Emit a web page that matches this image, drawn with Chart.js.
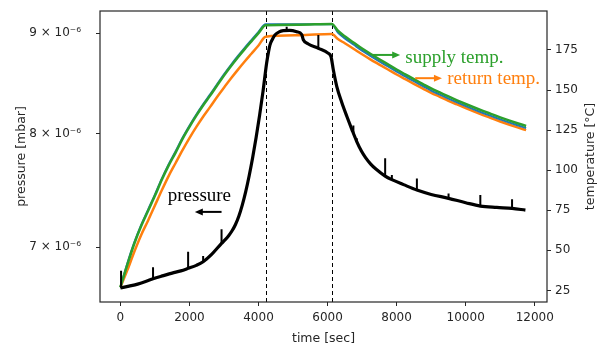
<!DOCTYPE html>
<html>
<head>
<meta charset="utf-8">
<script src="https://cdn.jsdelivr.net/npm/chart.js@4.4.0/dist/chart.umd.min.js"></script>
<style>
  html, body { margin: 0; padding: 0; background: #fff; }
</style>
</head>
<body>
<canvas id="chart" width="605" height="347"></canvas>
<script>
// ticks
const xTicks = [0, 2000, 4000, 6000, 8000, 10000, 12000];
const pressureTicks = [7e-6, 8e-6, 9e-6];
const pressureTickLabels = ['7 × 10⁻⁶', '8 × 10⁻⁶', '9 × 10⁻⁶'];
const tempTicks = [25, 50, 75, 100, 125, 150, 175];

// start / end of the hold phase (dashed lines)
const markerTimes = [4206, 6121];

// temperatures [°C]
const tempTime = [0, 200, 400, 600, 800, 1000, 1200, 1400, 1600, 1800, 2000, 2200, 2400, 2600, 2800, 3000,
  3200, 3400, 3600, 3800, 4000, 4206, 5160, 6121, 6300, 6500, 6750, 7000, 7250, 7500, 7750, 8000, 8250,
  8500, 8750, 9000, 9250, 9500, 9750, 10000, 10250, 10500, 10750, 11000, 11250, 11500, 11750];
const supplyTemp = [27, 41, 54, 65, 74.5, 84, 94, 103, 111, 119.5, 127, 134, 140.5, 146.5, 152.8, 159,
  164.8, 170.3, 175.5, 180.5, 185.5, 190.4, 190.8, 191.2, 187, 183.5, 179.7, 175.9, 172.5, 169.2, 166, 162.8, 159.8,
  156.8, 153.9, 151, 148.5, 146, 143.6, 141.3, 139.1, 137, 135, 133, 131.1, 129.3, 127.6];
const meanTemp = [27, 41.8, 54.8, 65.8, 75.3, 84.8, 94.8, 103.8, 111.8, 120.3, 127.8, 134.8, 141.3, 147.3, 153.6, 159.8,
  165.6, 171.1, 176.3, 181.3, 186.3, 191, 191, 191, 185.8, 182.2, 178.4, 174.6, 171.2, 167.9, 164.7, 161.5, 158.5,
  155.5, 152.6, 149.7, 147.2, 144.7, 142.3, 140, 137.8, 135.7, 133.7, 131.7, 129.8, 128, 126.3];
const returnTemp = [27, 37.5, 49, 59.5, 68.5, 78, 87.5, 96.5, 104.5, 112.5, 120, 127, 133.5, 139.5, 145.7, 151.5,
  157.2, 162.6, 167.8, 172.8, 177.8, 183.3, 184.2, 185, 181.8, 179.2, 175.8, 172.3, 169, 165.9, 162.8, 159.7, 156.8,
  153.9, 151.1, 148.3, 145.8, 143.3, 141, 138.7, 136.5, 134.4, 132.4, 130.4, 128.5, 126.7, 125];

// pressure [mbar]
const pressureTime = [0, 250, 500, 750, 946, 1250, 1500, 1750, 1962, 2200, 2397, 2650, 2930, 3030, 3130, 3230,
  3330, 3430, 3530, 3630, 3730, 3830, 3930, 4030, 4130, 4236, 4290, 4331, 4400, 4476, 4600, 4717, 4900, 5106,
  5251, 5297, 5443, 5733, 6023, 6101, 6168, 6266, 6412, 6560, 6700, 6846, 6980, 7100, 7250, 7400, 7668, 7862,
  8200, 8587, 9000, 9504, 10000, 10424, 10900, 11343, 11730];
const pressureMbar = [6.672e-6, 6.687e-6, 6.703e-6, 6.725e-6, 6.745e-6, 6.770e-6, 6.790e-6, 6.808e-6, 6.828e-6,
  6.852e-6, 6.881e-6, 6.943e-6, 7.031e-6, 7.060e-6, 7.093e-6, 7.134e-6, 7.187e-6, 7.259e-6, 7.354e-6, 7.471e-6,
  7.612e-6, 7.775e-6, 7.960e-6, 8.168e-6, 8.402e-6, 8.689e-6, 8.802e-6, 8.874e-6, 8.932e-6, 8.979e-6, 9.013e-6,
  9.025e-6, 9.028e-6, 9.014e-6, 8.985e-6, 8.930e-6, 8.885e-6, 8.840e-6, 8.788e-6, 8.753e-6, 8.618e-6, 8.455e-6,
  8.295e-6, 8.160e-6, 8.041e-6, 7.924e-6, 7.836e-6, 7.776e-6, 7.717e-6, 7.672e-6, 7.609e-6, 7.577e-6, 7.533e-6,
  7.485e-6, 7.447e-6, 7.413e-6, 7.375e-6, 7.346e-6, 7.334e-6, 7.326e-6, 7.311e-6];

// short pressure spikes: time, value before, peak value
const spikeTime = [20, 946, 1962, 2397, 2930, 4816, 5733, 6748, 6846, 7668, 7862, 8587, 9504, 10424, 11343];
const spikeBase = [6.675e-6, 6.745e-6, 6.828e-6, 6.881e-6, 7.031e-6, 9.027e-6, 8.840e-6, 8.002e-6, 7.924e-6,
  7.609e-6, 7.577e-6, 7.485e-6, 7.413e-6, 7.346e-6, 7.326e-6];
const spikePeak = [6.808e-6, 6.836e-6, 6.962e-6, 6.927e-6, 7.148e-6, 9.067e-6, 8.979e-6, 8.075e-6, 7.955e-6,
  7.769e-6, 7.618e-6, 7.588e-6, 7.456e-6, 7.441e-6, 7.406e-6];

// text notes, anchored in (time, temperature) coordinates
const notes = [
  { text: 'pressure', color: '#000', at: [1372, 80.8], arrow: [[2930, 74], [2156, 74]] },
  { text: 'supply temp.', color: '#2ca02c', at: [8251, 166.6], arrow: [[7282, 171.9], [8103, 171.9]] },
  { text: 'return temp.', color: '#ff7f0e', at: [9466, 153.6], arrow: [[8538, 157.4], [9312, 157.4]] }
];

const TXT = '#262626';
const tickFont = { family: 'DejaVu Sans', size: 12 };
const titleFont = { family: 'DejaVu Sans', size: 12.5 };

const pts = (xs, ys) => xs.map((v, i) => ({ x: v, y: ys[i] }));

// each spike is its own little vertical segment, separated by gaps
const spikePts = [];
spikeTime.forEach((tm, i) => {
  spikePts.push({ x: tm, y: spikeBase[i] }, { x: tm, y: spikePeak[i] }, { x: tm, y: null });
});

const decor = {
  id: 'decor',
  beforeDatasetsDraw(chart) {
    const { ctx, chartArea: a, scales: { x } } = chart;
    ctx.save();
    ctx.strokeStyle = '#000';
    ctx.lineWidth = 1;
    ctx.setLineDash([4, 3]);
    markerTimes.forEach(tm => {
      const px = Math.round(x.getPixelForValue(tm)) + 0.5;
      ctx.beginPath();
      ctx.moveTo(px, a.top);
      ctx.lineTo(px, a.bottom);
      ctx.stroke();
    });
    ctx.restore();
  },
  afterDraw(chart) {
    const { ctx, chartArea: a, scales: { x, t } } = chart;
    ctx.save();
    // axes box
    ctx.strokeStyle = TXT;
    ctx.lineWidth = 1.2;
    ctx.strokeRect(a.left, a.top, a.right - a.left, a.bottom - a.top);

    // notes with arrows
    ctx.font = '19px "Liberation Serif"';
    ctx.textAlign = 'left';
    ctx.textBaseline = 'alphabetic';
    notes.forEach(n => {
      ctx.fillStyle = n.color;
      ctx.fillText(n.text, x.getPixelForValue(n.at[0]), t.getPixelForValue(n.at[1]));
      const x0 = x.getPixelForValue(n.arrow[0][0]), y0 = t.getPixelForValue(n.arrow[0][1]);
      const x1 = x.getPixelForValue(n.arrow[1][0]);
      const dir = Math.sign(x1 - x0);
      ctx.strokeStyle = n.color;
      ctx.lineWidth = 2;
      ctx.beginPath();
      ctx.moveTo(x0, y0);
      ctx.lineTo(x1 - dir * 6, y0);
      ctx.stroke();
      ctx.beginPath();
      ctx.moveTo(x1, y0);
      ctx.lineTo(x1 - dir * 8, y0 - 3.5);
      ctx.lineTo(x1 - dir * 8, y0 + 3.5);
      ctx.closePath();
      ctx.fill();
    });

    // right axis title, reading bottom to top
    ctx.fillStyle = TXT;
    ctx.font = '12.5px "DejaVu Sans"';
    ctx.textAlign = 'center';
    ctx.textBaseline = 'middle';
    ctx.translate(a.right + 44, (a.top + a.bottom) / 2);
    ctx.rotate(-Math.PI / 2);
    ctx.fillText('temperature [°C]', 0, 0);
    ctx.restore();
  }
};

new Chart(document.getElementById('chart'), {
  type: 'line',
  data: {
    datasets: [
      { label: 'pressure', data: pts(pressureTime, pressureMbar), xAxisID: 'x', yAxisID: 'p',
        borderColor: '#000', borderWidth: 3.2, cubicInterpolationMode: 'monotone' },
      { label: 'pressure spikes', data: spikePts, xAxisID: 'x', yAxisID: 'p',
        borderColor: '#000', borderWidth: 2, tension: 0, spanGaps: false },
      { label: 'supply temp.', data: pts(tempTime, supplyTemp), xAxisID: 'x', yAxisID: 't',
        borderColor: '#2ca02c', borderWidth: 2.5, cubicInterpolationMode: 'monotone' },
      { label: 'mean temp.', data: pts(tempTime, meanTemp), xAxisID: 'x', yAxisID: 't',
        borderColor: '#1f77b4', borderWidth: 2, cubicInterpolationMode: 'monotone' },
      { label: 'return temp.', data: pts(tempTime, returnTemp), xAxisID: 'x', yAxisID: 't',
        borderColor: '#ff7f0e', borderWidth: 2.5, cubicInterpolationMode: 'monotone' }
    ]
  },
  options: {
    responsive: false,
    animation: false,
    devicePixelRatio: 1,
    layout: { padding: { top: 11, left: 0, right: 0, bottom: 0 } },
    elements: { point: { radius: 0 } },
    plugins: { legend: { display: false }, tooltip: { enabled: false } },
    scales: {
      x: {
        type: 'linear', position: 'bottom', min: -590, max: 12355,
        afterBuildTicks: s => { s.ticks = xTicks.map(v => ({ value: v })); },
        afterFit: s => { s.height = 45; s.paddingLeft = 0; s.paddingRight = 0; },
        grid: { drawOnChartArea: false, tickLength: 4, color: TXT },
        border: { display: false },
        ticks: { font: tickFont, color: TXT, padding: 5, maxRotation: 0, callback: v => String(v) },
        title: { display: true, text: 'time [sec]', font: titleFont, color: TXT, padding: { top: 0, bottom: 1 } }
      },
      p: {
        type: 'logarithmic', position: 'left', min: 6.5636e-6, max: 9.236e-6, bounds: 'data',
        afterBuildTicks: s => { s.ticks = pressureTicks.map(v => ({ value: v })); },
        afterFit: s => { s.width = 100; s.paddingTop = 0; s.paddingBottom = 0; },
        grid: { drawOnChartArea: false, tickLength: 4, color: TXT },
        border: { display: false },
        ticks: { font: tickFont, color: TXT, padding: 15, callback: (v, i) => pressureTickLabels[i] },
        title: { display: true, text: 'pressure [mbar]', font: titleFont, color: TXT, padding: { top: 14.5, bottom: 0 } }
      },
      t: {
        type: 'linear', position: 'right', min: 17.8, max: 199.3,
        afterBuildTicks: s => { s.ticks = tempTicks.map(v => ({ value: v })); },
        afterFit: s => { s.width = 58; s.paddingTop = 0; s.paddingBottom = 0; },
        grid: { drawOnChartArea: false, tickLength: 4, color: TXT },
        border: { display: false },
        ticks: { font: tickFont, color: TXT, padding: 4, callback: v => String(v) }
      }
    }
  },
  plugins: [decor]
});
</script>
</body>
</html>
